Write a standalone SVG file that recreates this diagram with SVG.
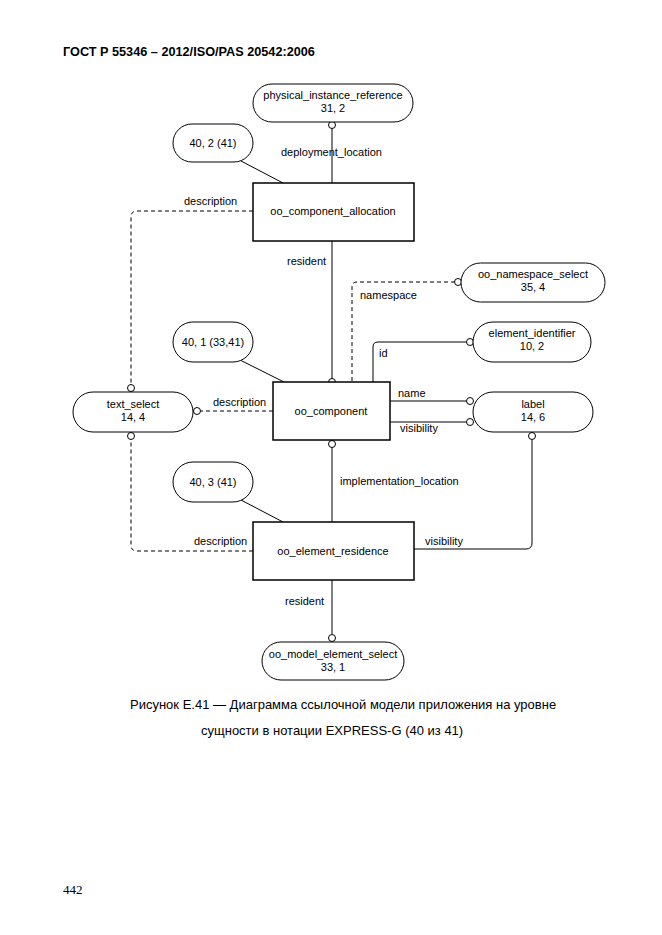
<svg xmlns="http://www.w3.org/2000/svg" width="662" height="935" viewBox="0 0 662 935">
<style>
text{font-family:"Liberation Sans",Arial,sans-serif;font-size:11px;fill:#000}
.c{text-anchor:middle}
.ent{fill:#fff;stroke:#000;stroke-width:1.5}
.ref{fill:#fff;stroke:#000;stroke-width:1}
.ln{fill:none;stroke:#000;stroke-width:1}
.ds{fill:none;stroke:#000;stroke-width:1;stroke-dasharray:4,3}
.o{fill:#fff;stroke:#000;stroke-width:1}
</style>
<text x="63" y="56" style="font-size:12.7px;font-weight:bold">ГОСТ Р 55346 – 2012/ISO/PAS 20542:2006</text>

<g id="connectors">
<line class="ln" x1="332" y1="126" x2="332" y2="183"/>
<line class="ln" x1="241" y1="161" x2="283" y2="183"/>
<path class="ds" d="M253,211 H137 Q131,211 131,217 V384"/>
<line class="ln" x1="332" y1="241" x2="332" y2="379"/>
<path class="ds" d="M455,282 H357 Q352,282 352,287 V382"/>
<path class="ln" d="M467,342 H378 Q373,342 373,347 V382"/>
<line class="ln" x1="240" y1="360" x2="284" y2="382"/>
<line class="ds" x1="273" y1="411" x2="201" y2="411"/>
<line class="ln" x1="390" y1="401" x2="467" y2="401"/>
<line class="ln" x1="390" y1="422" x2="467" y2="422"/>
<path class="ln" d="M532,440 V543 Q532,549 526,549 H414"/>
<line class="ln" x1="332" y1="444" x2="332" y2="522"/>
<line class="ln" x1="241" y1="500" x2="283" y2="522"/>
<path class="ds" d="M253,551 H137 Q131,551 131,545 V440"/>
<line class="ln" x1="332" y1="580" x2="332" y2="634"/>
<circle class="o" cx="332" cy="125" r="3.5"/>
<circle class="o" cx="131" cy="388" r="3.5"/>
<circle class="o" cx="332" cy="382" r="3.5"/>
<circle class="o" cx="458" cy="282" r="3.5"/>
<circle class="o" cx="470" cy="342" r="3.5"/>
<circle class="o" cx="197" cy="411" r="3.5"/>
<circle class="o" cx="470" cy="401" r="3.5"/>
<circle class="o" cx="470" cy="422" r="3.5"/>
<circle class="o" cx="532" cy="436" r="3.5"/>
<circle class="o" cx="332" cy="444" r="3.5"/>
<circle class="o" cx="131" cy="436" r="3.5"/>
<circle class="o" cx="332" cy="638" r="3.5"/>
<text x="281" y="156">deployment_location</text>
<text x="184" y="205">description</text>
<text x="287" y="265">resident</text>
<text x="360" y="299">namespace</text>
<text x="379" y="357">id</text>
<text x="213" y="406">description</text>
<text x="398" y="397">name</text>
<text x="400" y="432">visibility</text>
<text x="340" y="485">implementation_location</text>
<text x="194" y="545">description</text>
<text x="425" y="545">visibility</text>
<text x="285" y="605">resident</text>
</g>

<g id="physical_instance_reference">
<rect class="ref" x="253" y="84" width="160" height="38" rx="19"/>
<text class="c" x="333" y="99">physical_instance_reference</text>
<text class="c" x="333" y="112">31, 2</text>
</g>
<g id="page_40_2">
<rect class="ref" x="173" y="124" width="80" height="38" rx="19"/>
<text class="c" x="213" y="147">40, 2 (41)</text>
</g>
<g id="oo_component_allocation">
<rect class="ent" x="253" y="183" width="161" height="58"/>
<text class="c" x="333" y="215">oo_component_allocation</text>
</g>
<g id="oo_namespace_select">
<rect class="ref" x="461" y="263" width="144" height="39" rx="19.5"/>
<text class="c" x="533" y="278">oo_namespace_select</text>
<text class="c" x="533" y="291">35, 4</text>
</g>
<g id="element_identifier">
<rect class="ref" x="473" y="322" width="118" height="40" rx="20"/>
<text class="c" x="532" y="337">element_identifier</text>
<text class="c" x="532" y="350">10, 2</text>
</g>
<g id="page_40_1">
<rect class="ref" x="173" y="322" width="80" height="40" rx="20"/>
<text class="c" x="213" y="346">40, 1 (33,41)</text>
</g>
<g id="text_select">
<rect class="ref" x="73" y="392" width="120" height="40" rx="20"/>
<text class="c" x="133" y="408">text_select</text>
<text class="c" x="133" y="421">14, 4</text>
</g>
<g id="oo_component">
<rect class="ent" x="273" y="382" width="117" height="58"/>
<text class="c" x="331" y="415">oo_component</text>
</g>
<g id="label">
<rect class="ref" x="473" y="392" width="120" height="40" rx="20"/>
<text class="c" x="533" y="408">label</text>
<text class="c" x="533" y="421">14, 6</text>
</g>
<g id="page_40_3">
<rect class="ref" x="173" y="462" width="80" height="40" rx="20"/>
<text class="c" x="213" y="486">40, 3 (41)</text>
</g>
<g id="oo_element_residence">
<rect class="ent" x="253" y="522" width="161" height="58"/>
<text class="c" x="333" y="555">oo_element_residence</text>
</g>
<g id="oo_model_element_select">
<rect class="ref" x="262" y="642" width="142" height="38" rx="19"/>
<text class="c" x="333" y="658">oo_model_element_select</text>
<text class="c" x="333" y="671">33, 1</text>
</g>

<text x="130" y="709" style="font-size:13px">Рисунок Е.41 — Диаграмма ссылочной модели приложения на уровне</text>
<text x="201" y="735" style="font-size:13px">сущности в нотации EXPRESS-G (40 из 41)</text>
<text x="63" y="894" style="font-family:'Liberation Serif',serif;font-size:13px">442</text>
</svg>
